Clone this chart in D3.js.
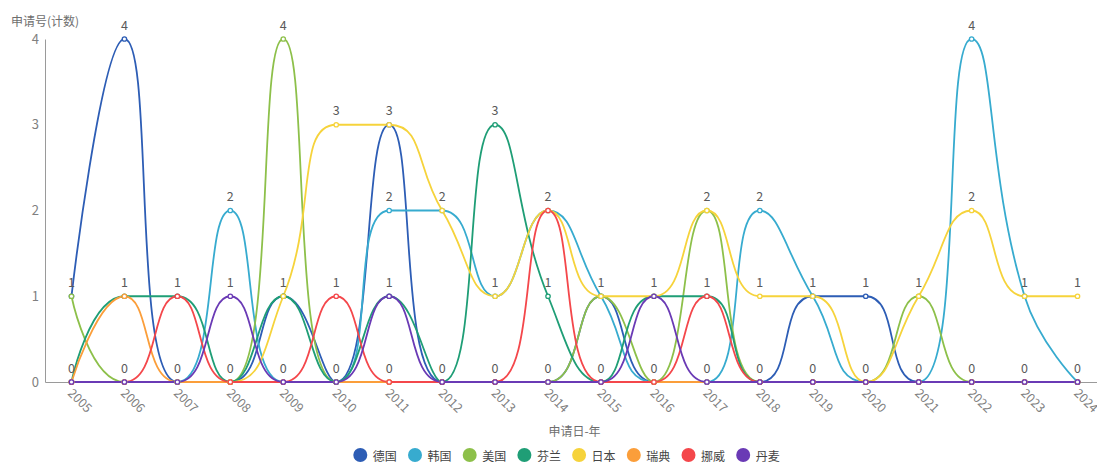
<!DOCTYPE html>
<html>
<head>
<meta charset="utf-8">
<script src="https://cdn.jsdelivr.net/npm/d3@7"></script>
<style>
  html, body { margin: 0; padding: 0; background: #fff; }
  svg { display: block; font-family: "Noto Sans CJK SC", "Noto Sans", sans-serif; }
</style>
</head>
<body>
<svg id="chart" width="1097" height="464"></svg>
<script>
// ---------- data ----------
const years = ["2005","2006","2007","2008","2009","2010","2011","2012","2013","2014",
               "2015","2016","2017","2018","2019","2020","2021","2022","2023","2024"];
const seriesNames = ["德国","韩国","美国","芬兰","日本","瑞典","挪威","丹麦"];
const germany = [1,4,0,0,1,0,3,0,0,0,1,0,0,0,1,1,0,0,0,0];
const korea   = [0,0,0,2,0,0,2,2,1,2,1,0,0,2,1,0,0,4,1,0];
const usa     = [1,0,0,0,4,0,0,0,0,0,1,0,2,0,0,0,1,0,0,0];
const finland = [0,1,1,0,1,0,1,0,3,1,0,1,1,0,0,0,0,0,0,0];
const japan   = [0,0,0,0,1,3,3,2,1,2,1,1,2,1,1,0,1,2,1,1];
const sweden  = [0,1,0,0,0,0,0,0,0,0,0,0,0,0,0,0,0,0,0,0];
const norway  = [0,0,1,0,0,1,0,0,0,2,0,0,1,0,0,0,0,0,0,0];
const denmark = [0,0,0,1,0,0,1,0,0,0,0,1,0,0,0,0,0,0,0,0];
const yTicks = [0,1,2,3,4];
const yAxisTitle = "申请号(计数)";
const xAxisTitle = "申请日-年";

const seriesValues = [germany, korea, usa, finland, japan, sweden, norway, denmark];
const colors = ["#2d5db5","#37abcf","#8dc04a","#1f9e76","#f6d33b","#fb9e3a","#f4474b","#6a3ab5"];

// ---------- layout ----------
const svg = d3.select("#chart");
const x = d3.scalePoint().domain(years).range([45, 1104]).padding(0.5);
const y = d3.scaleLinear().domain([0, 4]).range([382, 39]);

// ECharts-like smooth curve (smooth = 0.5 with extreme constraints)
function EcSmooth(context) { this._context = context; }
EcSmooth.prototype = {
  areaStart() {}, areaEnd() {},
  lineStart() { this._pts = []; },
  point(px, py) { this._pts.push([+px, +py]); },
  lineEnd() {
    const ctx = this._context, p = this._pts, smooth = 0.5;
    const mn = Math.min, mx = Math.max;
    let prevX, prevY, cpx0, cpy0, cpx1, cpy1;
    for (let i = 0; i < p.length; i++) {
      const [px, py] = p[i];
      if (i === 0) { ctx.moveTo(px, py); cpx0 = px; cpy0 = py; }
      else {
        let nextCpx0, nextCpy0;
        if (i === p.length - 1) { cpx1 = px; cpy1 = py; }
        else {
          const [nx, ny] = p[i + 1];
          let vx = nx - prevX, vy = ny - prevY;
          const dx0 = px - prevX, dy0 = py - prevY, dx1 = nx - px, dy1 = ny - py;
          const lenPrev = Math.sqrt(dx0*dx0 + dy0*dy0);
          const lenNext = Math.sqrt(dx1*dx1 + dy1*dy1);
          const ratio = lenNext / (lenNext + lenPrev);
          nextCpx0 = px + vx * smooth * ratio;
          nextCpy0 = py + vy * smooth * ratio;
          nextCpx0 = mn(nextCpx0, mx(nx, px)); nextCpy0 = mn(nextCpy0, mx(ny, py));
          nextCpx0 = mx(nextCpx0, mn(nx, px)); nextCpy0 = mx(nextCpy0, mn(ny, py));
          vx = nextCpx0 - px; vy = nextCpy0 - py;
          cpx1 = px - vx * lenPrev / lenNext;
          cpy1 = py - vy * lenPrev / lenNext;
          cpx1 = mn(cpx1, mx(prevX, px)); cpy1 = mn(cpy1, mx(prevY, py));
          cpx1 = mx(cpx1, mn(prevX, px)); cpy1 = mx(cpy1, mn(prevY, py));
          vx = px - cpx1; vy = py - cpy1;
          nextCpx0 = px + vx * lenNext / lenPrev;
          nextCpy0 = py + vy * lenNext / lenPrev;
        }
        ctx.bezierCurveTo(cpx0, cpy0, cpx1, cpy1, px, py);
        cpx0 = nextCpx0; cpy0 = nextCpy0;
      }
      prevX = px; prevY = py;
    }
  }
};
const ecCurve = ctx => new EcSmooth(ctx);

// ---------- axes ----------
const yAxis = svg.append("g").attr("transform", "translate(45,0)")
  .call(d3.axisLeft(y).tickValues(yTicks).tickSize(0).tickPadding(6).tickFormat(d3.format("d")));
yAxis.select(".domain").attr("stroke", "#9a9a9a");
yAxis.selectAll("text").attr("fill", "#808080").style("font-size", "13px")
  .style("font-family", "'Noto Sans CJK SC', sans-serif");

const xAxis = svg.append("g").attr("transform", "translate(0,382)")
  .call(d3.axisBottom(x).tickSize(0).tickPadding(0));
xAxis.select(".domain").attr("stroke", "#9a9a9a");
xAxis.selectAll(".tick text")
  .attr("fill", "#808080").style("font-size", "12.5px")
  .style("font-family", "'Noto Sans CJK SC', sans-serif")
  .attr("y", 0).attr("dy", null)
  .attr("text-anchor", "start")
  .attr("dominant-baseline", "central")
  .attr("transform", "translate(-1,8) rotate(45)");

svg.append("text").attr("x", 45).attr("y", 20).attr("text-anchor", "middle")
  .attr("dominant-baseline", "central").attr("fill", "#6e6e6e").style("font-size", "12px")
  .text(yAxisTitle);
svg.append("text").attr("x", (x.range()[0] + x.range()[1]) / 2).attr("y", 430)
  .attr("text-anchor", "middle").attr("dominant-baseline", "central")
  .attr("fill", "#6e6e6e").style("font-size", "12px").text(xAxisTitle);

// ---------- lines ----------
const line = d3.line().x((d, i) => x(years[i])).y(d => y(d)).curve(ecCurve);
const series = seriesNames.map((name, s) => ({ name, values: seriesValues[s], color: colors[s] }));

svg.append("g").selectAll("path").data(series).join("path")
  .attr("d", d => line(d.values))
  .attr("fill", "none").attr("stroke", d => d.color).attr("stroke-width", 1.8);

// symbols
const symG = svg.append("g");
series.forEach(s => {
  symG.append("g").selectAll("circle").data(s.values).join("circle")
    .attr("cx", (d, i) => x(years[i])).attr("cy", d => y(d)).attr("r", 2.2)
    .attr("fill", "#fff").attr("stroke", s.color).attr("stroke-width", 1.3);
});

// data labels (identical labels at the same point drawn once)
const labelSet = [];
years.forEach((yr, i) => {
  const vals = Array.from(new Set(seriesValues.map(v => v[i])));
  vals.forEach(v => labelSet.push({ yr, v }));
});
svg.append("g").selectAll("text").data(labelSet).join("text")
  .attr("x", d => x(d.yr)).attr("y", d => y(d.v) - 9.5)
  .attr("text-anchor", "middle").attr("fill", "#5a5a5a").style("font-size", "12.5px")
  .text(d => d.v);

// ---------- legend ----------
const legX = d3.scaleLinear().domain([0, 1]).range([360.3, 415]);
const leg = svg.append("g").selectAll("g").data(series).join("g")
  .attr("transform", (d, i) => `translate(${legX(i)},455)`);
leg.append("circle").attr("r", 7).attr("fill", d => d.color);
leg.append("text").attr("x", 12.5).attr("dominant-baseline", "central")
  .attr("fill", "#444").style("font-size", "12px").text(d => d.name);
</script>
</body>
</html>
